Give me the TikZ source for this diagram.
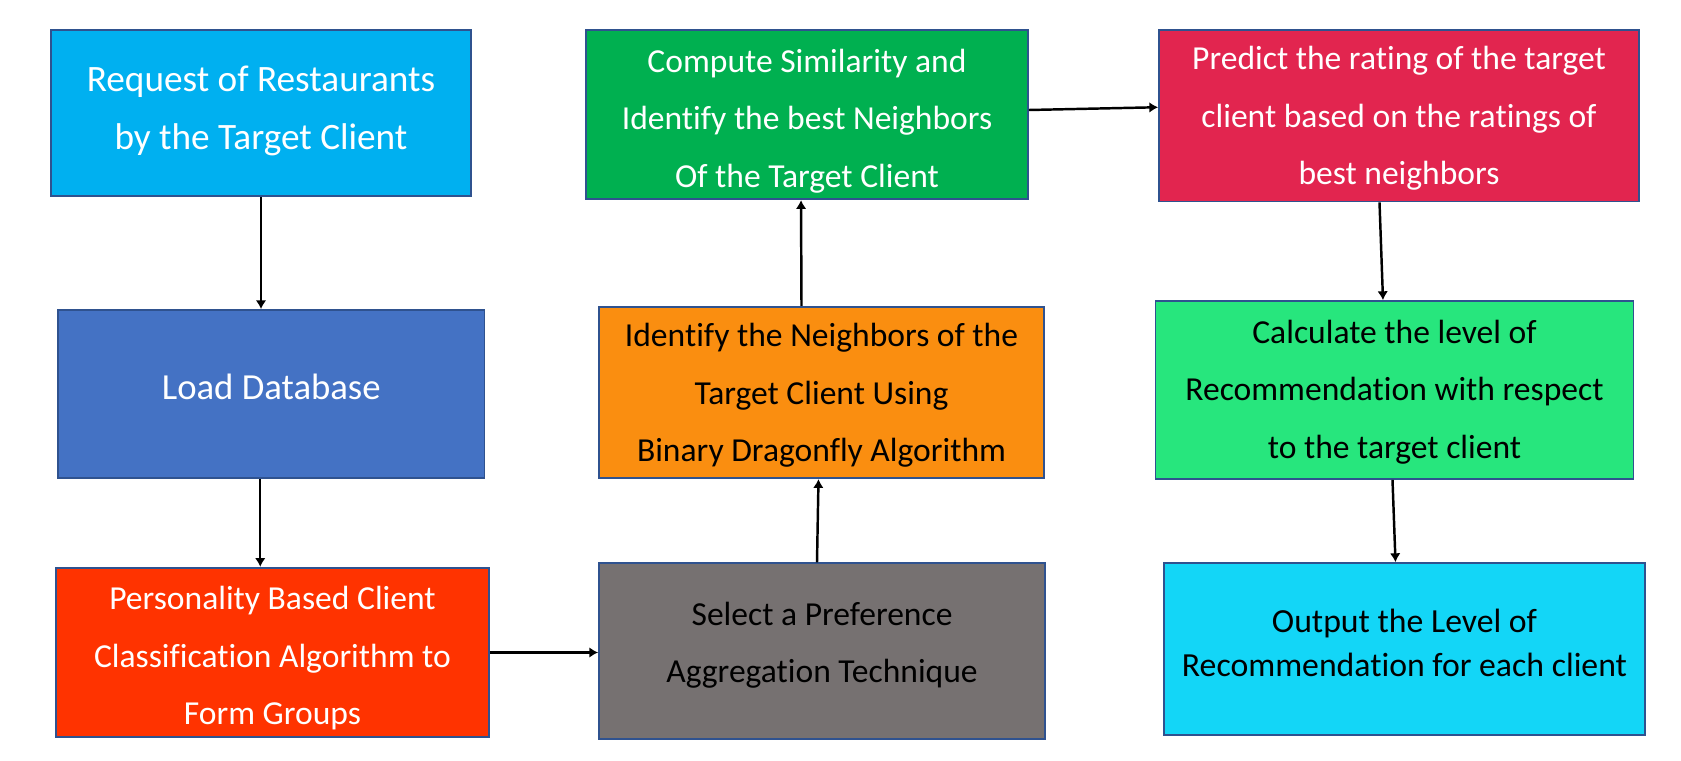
\documentclass[tikz,border=0pt]{standalone}
\usepackage{fontspec}
\setmainfont{Carlito}[Ligatures=NoCommon]
\usepackage{tikz}
\usetikzlibrary{arrows.meta,positioning}
\definecolor{boxedge}{HTML}{2F528F}
\definecolor{reqblue}{HTML}{00B0F0}
\definecolor{loadblue}{HTML}{4472C4}
\definecolor{persred}{HTML}{FF3300}
\definecolor{selgrey}{HTML}{767171}
\definecolor{identorange}{HTML}{FA8E10}
\definecolor{compgreen}{HTML}{00B050}
\definecolor{predred}{HTML}{E2254F}
\definecolor{calcgreen}{HTML}{27E67D}
\definecolor{outcyan}{HTML}{13D6F7}
\tikzset{flowbox/.style={draw=boxedge,line width=1pt,rectangle,inner sep=0,align=center,
        font=\fontsize{19.1}{32.7}\selectfont},
    bigtext/.style={font=\fontsize{#1}{32.5}\selectfont},
    whitetext/.style={text=white},
    flowarrow/.style={-{Latex[length=5pt,width=6pt]},line width=1.4pt}}

\begin{document}
\begin{tikzpicture}

\useasboundingbox (0,0) rectangle (33.62,-15.22);

\node (req) [flowbox,whitetext,bigtext=21.2,text depth=6pt,fill=reqblue,minimum width=8.4cm,minimum height=3.32cm] at (5.22,-2.26) {Request of Restaurants\\by the Target Client};
\node (load) [flowbox,whitetext,bigtext=20.9,text depth=8.6pt,fill=loadblue,minimum width=8.53cm,minimum height=3.36cm] at (5.425,-7.88) {Load Database};
\node (pers) [flowbox,whitetext,text depth=0pt,text height=82pt,fill=persred,minimum width=8.66cm,minimum height=3.39cm] at (5.45,-13.05) {Personality Based Client\\Classification Algorithm to\\Form Groups};

\node (sel) [flowbox,text depth=9.8pt,fill=selgrey,minimum width=8.92cm,minimum height=3.51cm] at (16.44,-13.02) {Select a Preference\\Aggregation Technique};
\node (ident) [flowbox,text depth=0pt,fill=identorange,minimum width=8.9cm,minimum height=3.43cm] at (16.43,-7.85) {Identify the Neighbors of the\\Target Client Using\\Binary Dragonfly Algorithm};
\node (comp) [flowbox,whitetext,text depth=0pt,text height=83pt,fill=compgreen,minimum width=8.84cm,minimum height=3.39cm] at (16.14,-2.29) {Compute Similarity and\\Identify the best Neighbors\\Of the Target Client};

\node (pred) [flowbox,whitetext,text depth=0pt,fill=predred,minimum width=9.6cm,minimum height=3.43cm] at (27.98,-2.315) {Predict the rating of the target\\client based on the ratings of\\best neighbors};
\node (calc) [flowbox,text depth=1pt,fill=calcgreen,minimum width=9.56cm,minimum height=3.56cm] at (27.89,-7.8) {Calculate the level of\\Recommendation with respect\\to the target client};
\node (out) [flowbox,text depth=6.8pt,fill=outcyan,minimum width=9.62cm,minimum height=3.44cm,font=\fontsize{19.2}{25.2}\selectfont] at (28.09,-12.98) {Output the Level of\\Recommendation for each client};

\draw [flowarrow] (req.south) -- (req.south |- load.north);
\draw [flowarrow] ([xshift=-0.22cm]load.south) -- ([xshift=-0.22cm]load.south |- pers.north);
\draw [flowarrow,line width=1.8pt] (pers.east) -- (pers.east -| sel.west);
\draw [flowarrow] ([xshift=-0.1cm]sel.north) -- ([xshift=-0.06cm]ident.south);
\draw [flowarrow] ([xshift=-0.4cm]ident.north) -- ([xshift=-0.12cm]comp.south);
\draw [flowarrow] ([yshift=0.09cm]comp.east) -- ([yshift=0.17cm]pred.west);
\draw [flowarrow] ([xshift=-0.39cm]pred.south) -- ([xshift=-0.23cm]calc.north);
\draw [flowarrow] ([xshift=-0.04cm]calc.south) -- ([xshift=-0.18cm]out.north);

\end{tikzpicture}
\end{document}
